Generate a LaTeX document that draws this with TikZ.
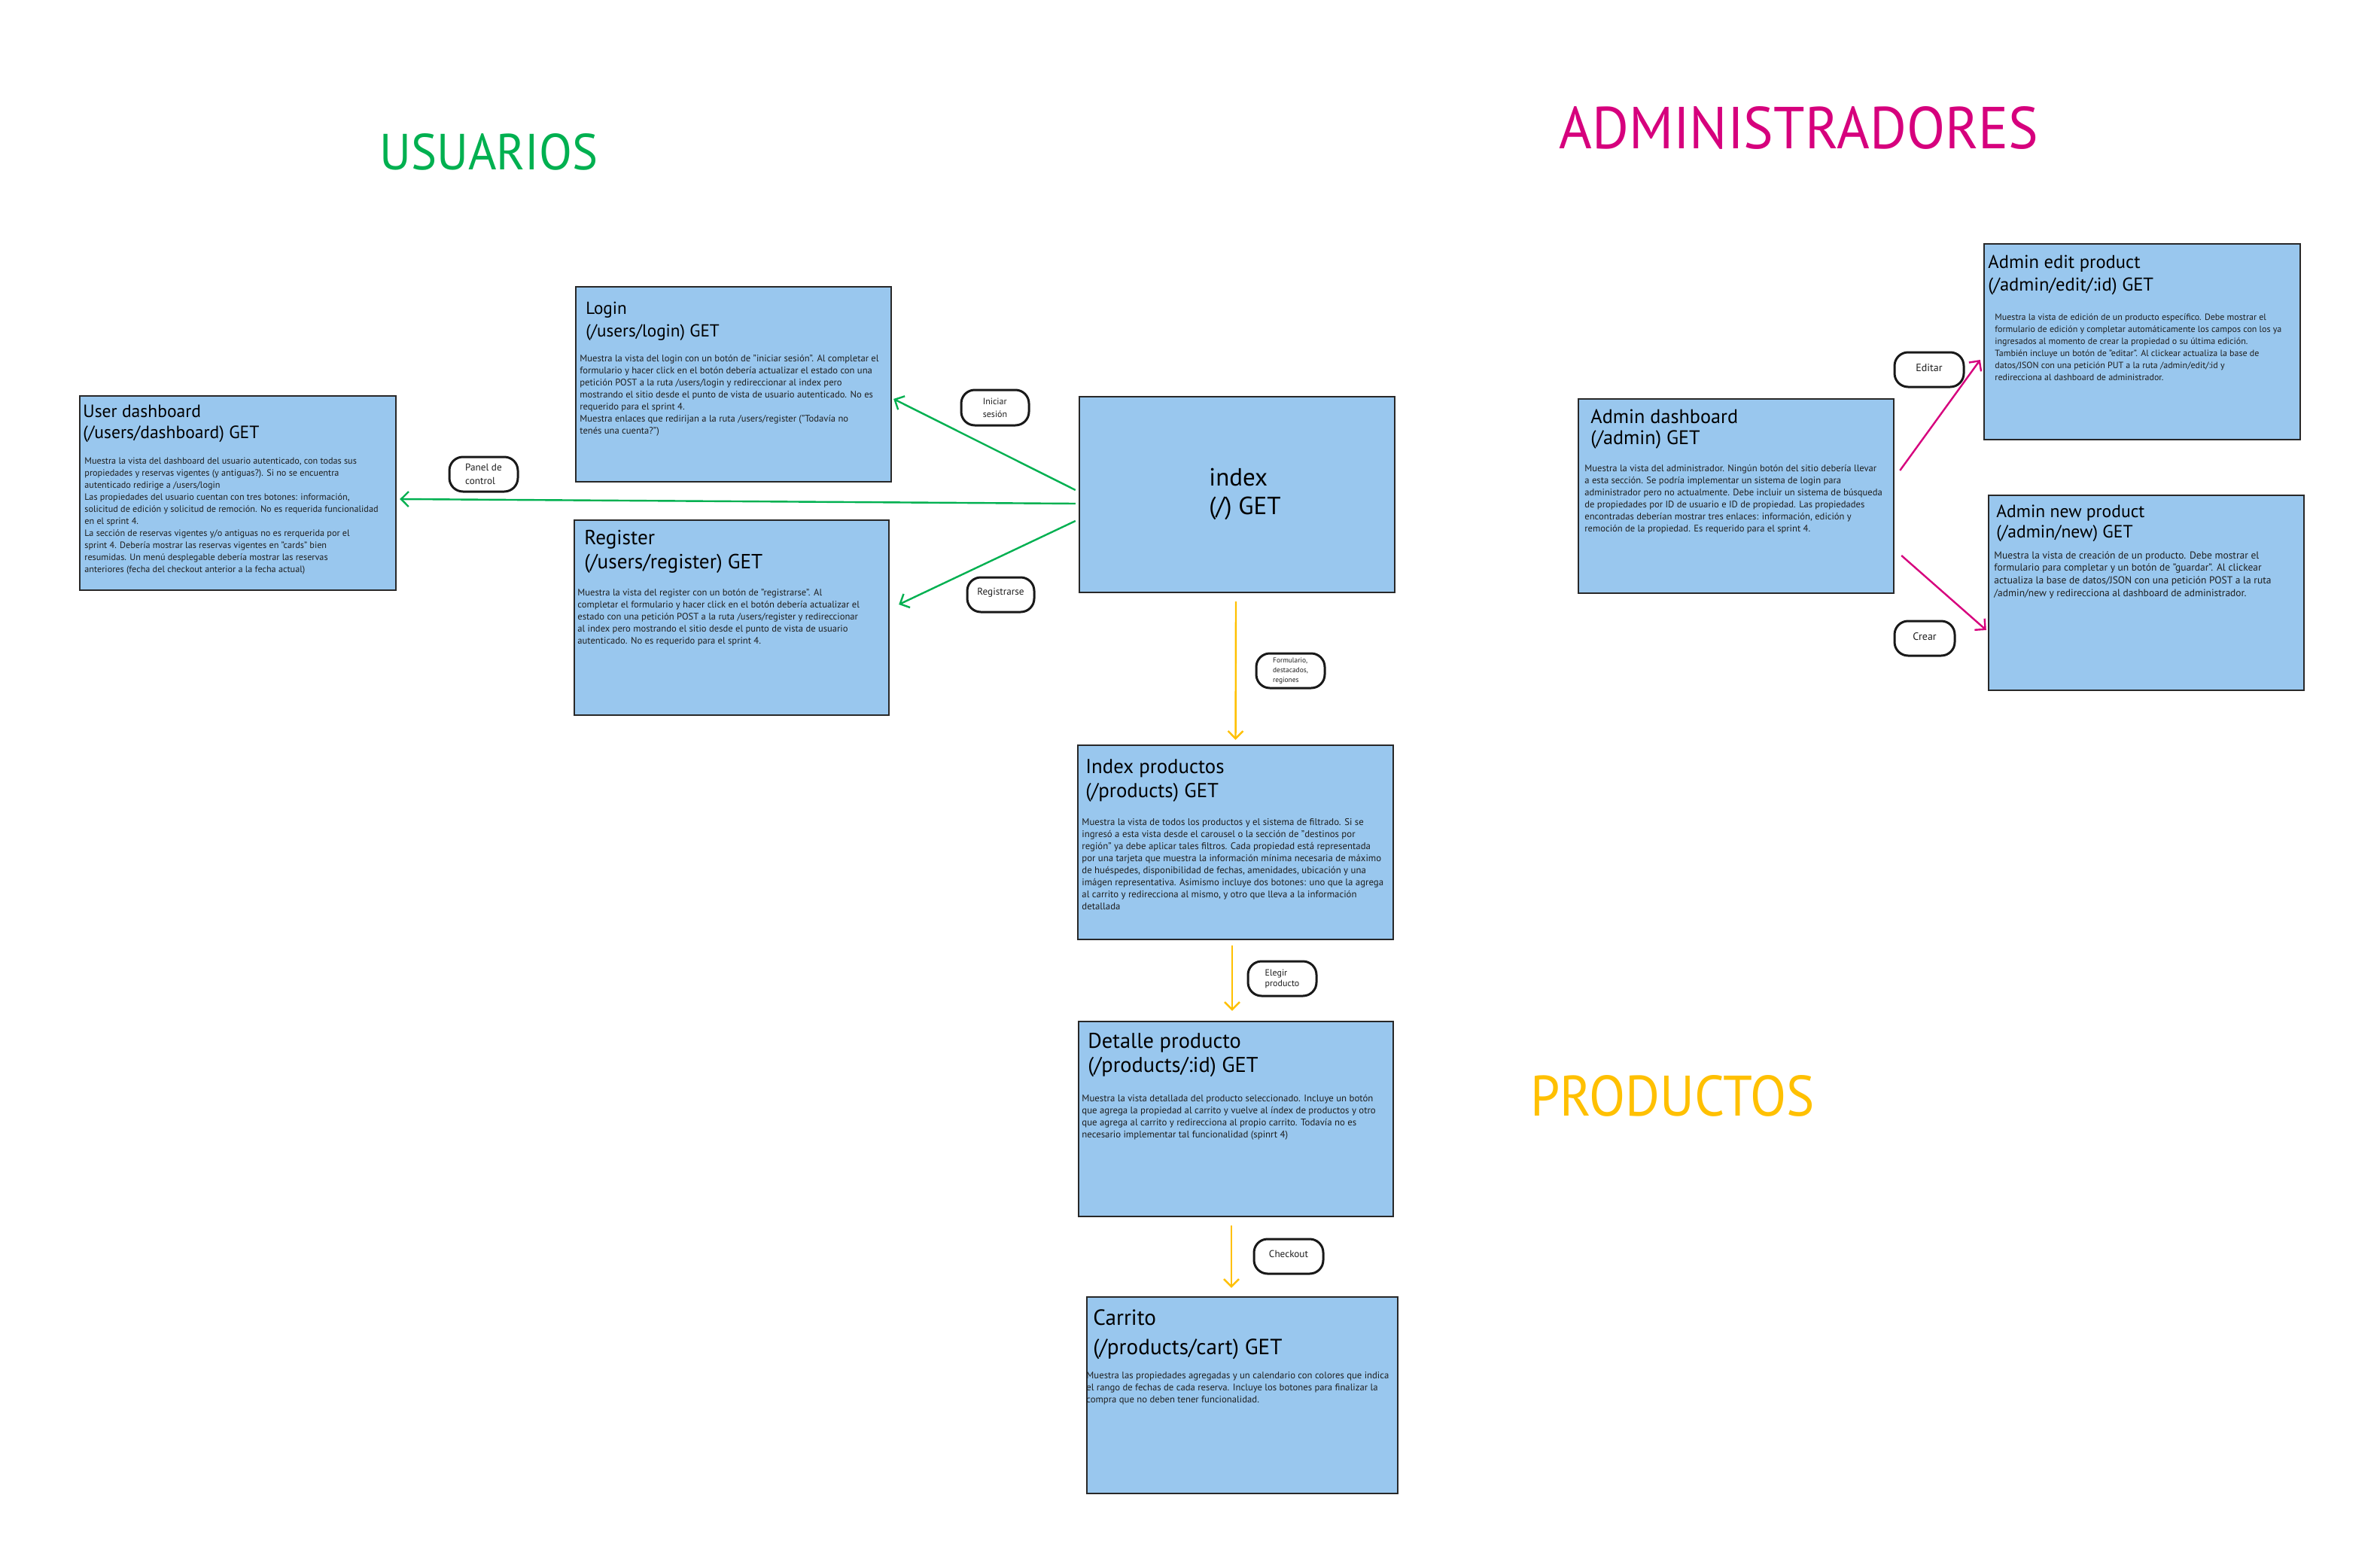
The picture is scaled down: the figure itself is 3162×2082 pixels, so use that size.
\documentclass[tikz,border=0pt]{standalone}
\usepackage{graphicx}
\usepackage{fontspec}
\setmainfont{PT Sans}
\usetikzlibrary{arrows.meta}
\definecolor{boxfill}{RGB}{153,199,238}
\definecolor{boxline}{RGB}{40,40,40}
\definecolor{ugreen}{RGB}{0,176,80}
\definecolor{pyellow}{RGB}{255,192,0}
\definecolor{amag}{RGB}{214,0,125}
\definecolor{txtdark}{RGB}{30,30,30}
\begin{document}
\begin{tikzpicture}[x=0.5pt,y=-0.5pt,
  viewbox/.style={draw=boxline, fill=boxfill, line width=1.2pt, inner sep=0pt},
  ttl/.style={anchor=north west, inner sep=0pt, align=left, text=black},
  bodytxt/.style={anchor=north west, inner sep=0pt, align=left, text=txtdark},
  pill/.style={draw=black!90, line width=1.5pt, rounded corners=9pt, fill=white, inner sep=0pt, align=left, text=txtdark},
  garrow/.style={draw=ugreen, line width=1.2pt, -{Straight Barb[length=5pt,width=10pt]}},
  yarrow/.style={draw=pyellow, line width=1.2pt, -{Straight Barb[length=5pt,width=10pt]}},
  marrow/.style={draw=amag, line width=1.2pt, -{Straight Barb[length=5pt,width=10pt]}},
  heading/.style={anchor=north west, inner sep=0pt}]
\useasboundingbox (0,0) rectangle (3162,2082);

% headings
\node[heading, text=ugreen] (hU) at (504,177) {\resizebox{145pt}{24pt}{USUARIOS}};
\node[heading, text=amag] (hA) at (2071,141) {\resizebox{318.5pt}{28pt}{ADMINISTRADORES}};
\node[heading, text=pyellow] (hP) at (2033,1428) {\resizebox{188.5pt}{27pt}{PRODUCTOS}};

% boxes
\node[viewbox, minimum width=210pt, minimum height=129pt] (ud) at (316,655) {};
\node[viewbox, minimum width=209.5pt, minimum height=129.5pt] (login) at (974.5,510.5) {};
\node[viewbox, minimum width=209pt, minimum height=129.5pt] (reg) at (972,820.5) {};
\node[viewbox, minimum width=209.5pt, minimum height=130pt] (idx) at (1643.5,657) {};
\node[viewbox, minimum width=209.5pt, minimum height=129pt] (ip) at (1641.5,1119) {};
\node[viewbox, minimum width=209pt, minimum height=129.5pt] (det) at (1642,1486.5) {};
\node[viewbox, minimum width=206.5pt, minimum height=130.5pt] (car) at (1650.5,1853.5) {};
\node[viewbox, minimum width=209.5pt, minimum height=129pt] (ad) at (2306.5,659) {};
\node[viewbox, minimum width=210pt, minimum height=130pt] (ae) at (2846,454) {};
\node[viewbox, minimum width=209.5pt, minimum height=129.5pt] (an) at (2851.5,787.5) {};

% titles
\node[ttl, font=\fontsize{11.8pt}{14pt}\selectfont] (t-ud) at (110,538) {User dashboard\\(/users/dashboard) GET};
\node[ttl, font=\fontsize{11.6pt}{15pt}\selectfont] (t-login) at (778,401) {Login\\(/users/login) GET};
\node[ttl, font=\fontsize{13.6pt}{16pt}\selectfont] (t-reg) at (776,704) {Register\\ (/users/register) GET};
\node[ttl, font=\fontsize{16.5pt}{19pt}\selectfont] (t-idx) at (1606,622) {index\\(/) GET};
\node[ttl, font=\fontsize{13.4pt}{16pt}\selectfont] (t-ip) at (1442,1008) {Index productos\\(/products) GET};
\node[ttl, font=\fontsize{14.2pt}{16pt}\selectfont] (t-det) at (1445,1372) {Detalle producto\\(/products/:id) GET};
\node[ttl, font=\fontsize{14.6pt}{19.5pt}\selectfont] (t-car) at (1452,1739) {Carrito\\(/products/cart) GET};
\node[ttl, font=\fontsize{13.1pt}{14pt}\selectfont] (t-ad) at (2113,543) {Admin dashboard\\(/admin) GET};
\node[ttl, font=\fontsize{12.3pt}{15pt}\selectfont] (t-ae) at (2641,339) {Admin edit product\\(/admin/edit/:id) GET};
\node[ttl, font=\fontsize{11.8pt}{13.5pt}\selectfont] (t-an) at (2652,670) {Admin new product\\(/admin/new) GET};

% bodies
\node[bodytxt, font=\fontsize{6.1pt}{8pt}\selectfont] (b-ud) at (112,607) {Muestra la vista del dashboard del usuario autenticado, con todas sus\\propiedades y reservas vigentes (y antiguas?). Si no se encuentra\\autenticado redirige a /users/login\\Las propiedades del usuario cuentan con tres botones: información,\\solicitud de edición y solicitud de remoción. No es requerida funcionalidad\\en el sprint 4.\\La sección de reservas vigentes y/o antiguas no es rerquerida por el\\sprint 4. Debería mostrar las reservas vigentes en "cards" bien\\resumidas. Un menú desplegable debería mostrar las reservas\\anteriores (fecha del checkout anterior a la fecha actual)};
\node[bodytxt, font=\fontsize{6.3pt}{8pt}\selectfont] (b-login) at (770,471) {Muestra la vista del login con un botón de "iniciar sesión". Al completar el\\formulario y hacer click en el botón debería actualizar el estado con una\\petición POST a la ruta /users/login y redireccionar al index pero\\mostrando el sitio desde el punto de vista de usuario autenticado. No es\\requerido para el sprint 4.\\Muestra enlaces que redirijan a la ruta /users/register ("Todavía no\\tenés una cuenta?")};
\node[bodytxt, font=\fontsize{6.3pt}{8pt}\selectfont] (b-reg) at (767,782) {Muestra la vista del register con un botón de "registrarse". Al\\completar el formulario y hacer click en el botón debería actualizar el\\estado con una petición POST a la ruta /users/register y redireccionar\\al index pero mostrando el sitio desde el punto de vista de usuario\\autenticado. No es requerido para el sprint 4.};
\node[bodytxt, font=\fontsize{6.4pt}{8pt}\selectfont] (b-ip) at (1437,1087) {Muestra la vista de todos los productos y el sistema de filtrado. Si se\\ingresó a esta vista desde el carousel o la sección de "destinos por\\región" ya debe aplicar tales filtros. Cada propiedad está representada\\por una tarjeta que muestra la información mínima necesaria de máximo\\de huéspedes, disponibilidad de fechas, amenidades, ubicación y una\\imágen representativa. Asimismo incluye dos botones: uno que la agrega\\al carrito y redirecciona al mismo, y otro que lleva a la información\\detallada};
\node[bodytxt, font=\fontsize{6.4pt}{8pt}\selectfont] (b-det) at (1437,1454) {Muestra la vista detallada del producto seleccionado. Incluye un botón\\que agrega la propiedad al carrito y vuelve al índex de productos y otro\\que agrega al carrito y redirecciona al propio carrito. Todavía no es\\necesario implementar tal funcionalidad (spinrt 4)};
\node[bodytxt, font=\fontsize{6.35pt}{8pt}\selectfont] (b-car) at (1443,1822) {Muestra las propiedades agregadas y un calendario con colores que indica\\el rango de fechas de cada reserva. Incluye los botones para finalizar la\\compra que no deben tener funcionalidad.};
\node[bodytxt, font=\fontsize{6.3pt}{8pt}\selectfont] (b-ad) at (2105,617) {Muestra la vista del administrador. Ningún botón del sitio debería llevar\\a esta sección. Se podría implementar un sistema de login para\\administrador pero no actualmente. Debe incluir un sistema de búsqueda\\de propiedades por ID de usuario e ID de propiedad. Las propiedades\\encontradas deberían mostrar tres enlaces: información, edición y\\remoción de la propiedad. Es requerido para el sprint 4.};
\node[bodytxt, font=\fontsize{6pt}{8pt}\selectfont] (b-ae) at (2650,416) {Muestra la vista de edición de un producto específico. Debe mostrar el\\formulario de edición y completar automáticamente los campos con los ya\\ingresados al momento de crear la propiedad o su última edición.\\También incluye un botón de "editar". Al clickear actualiza la base de\\datos/JSON con una petición PUT a la ruta /admin/edit/:id y\\redirecciona al dashboard de administrador.};
\node[bodytxt, font=\fontsize{6.75pt}{8.35pt}\selectfont] (b-an) at (2649,732) {Muestra la vista de creación de un producto. Debe mostrar el\\formulario para completar y un botón de "guardar". Al clickear\\actualiza la base de datos/JSON con una petición POST a la ruta\\/admin/new y redirecciona al dashboard de administrador.};

% connectors
\draw[garrow] ([xshift=-2pt,yshift=3pt]idx.west) -- ([xshift=1pt,yshift=-9.75pt]login.east);
\draw[garrow] ([xshift=-2pt,yshift=-6pt]idx.west) -- ([xshift=2pt,yshift=-4pt]ud.east);
\draw[garrow] ([xshift=-2pt,yshift=-17.5pt]idx.west) -- ([xshift=6pt,yshift=8.75pt]reg.east);
\draw[yarrow] ([xshift=-0.75pt,yshift=-5.5pt]idx.south) -- ([yshift=3pt]ip.north);
\draw[yarrow] ([xshift=-2.25pt,yshift=-3.5pt]ip.south) -- ([xshift=-2.5pt,yshift=6.5pt]det.north);
\draw[yarrow] ([xshift=-3pt,yshift=-5.5pt]det.south) -- ([xshift=-7.25pt,yshift=5.5pt]car.north);
\draw[marrow] ([xshift=3.5pt,yshift=17pt]ad.east) -- ([xshift=-2pt,yshift=-12pt]ae.west);
\draw[marrow] ([xshift=4.5pt,yshift=-39.5pt]ad.east) -- ([xshift=-1pt,yshift=-24.75pt]an.west);

% labels
\node[pill, minimum width=45.5pt, minimum height=23pt, font=\fontsize{6.6pt}{9pt}\selectfont] (pPanel) at (642.5,630) {Panel de\\control};
\node[pill, minimum width=45pt, minimum height=23.5pt, font=\fontsize{6pt}{8.5pt}\selectfont] (pIni) at (1322,541.5) {Iniciar\\sesión};
\node[pill, minimum width=44.5pt, minimum height=23pt, font=\fontsize{6.6pt}{8pt}\selectfont] (pReg) at (1329.5,790) {\raisebox{4pt}{Registrarse}};
\node[pill, minimum width=45.5pt, minimum height=23pt, font=\fontsize{4.7pt}{6.5pt}\selectfont] (pForm) at (1714.5,891) {Formulario,\\destacados,\\regiones};
\node[pill, minimum width=45.5pt, minimum height=23pt, font=\fontsize{6pt}{7pt}\selectfont] (pEleg) at (1703.5,1300) {Elegir\\producto};
\node[pill, minimum width=46pt, minimum height=23pt, font=\fontsize{6.6pt}{8pt}\selectfont] (pCheck) at (1712,1669) {\raisebox{3.5pt}{Checkout}};
\node[pill, minimum width=46pt, minimum height=23pt, font=\fontsize{7pt}{8pt}\selectfont] (pEdit) at (2563,491) {\raisebox{2.5pt}{Editar}};
\node[pill, minimum width=40pt, minimum height=23pt, font=\fontsize{7pt}{8pt}\selectfont] (pCrear) at (2557,848) {\raisebox{2pt}{Crear}};
\end{tikzpicture}
\end{document}
